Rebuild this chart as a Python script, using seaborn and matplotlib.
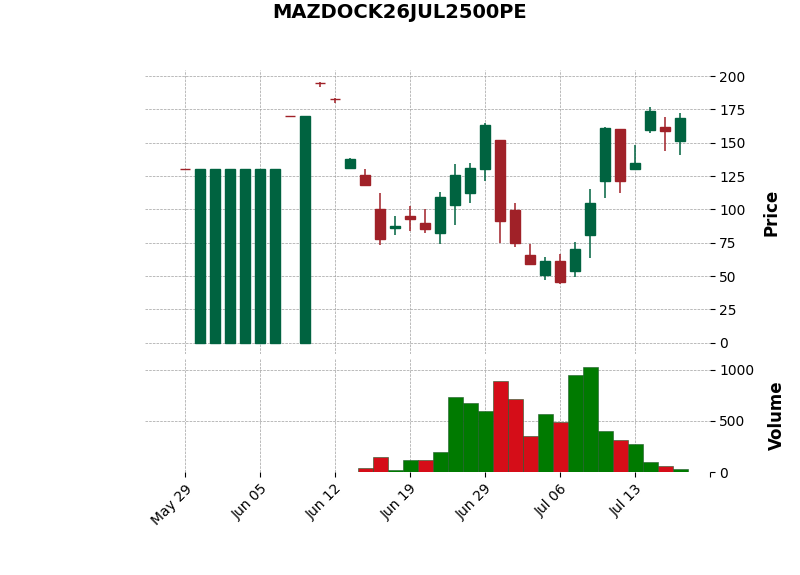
import numpy as np
import pandas as pd
import seaborn as sns
import matplotlib
matplotlib.use('Agg')
import matplotlib.pyplot as plt

title = 'MAZDOCK26JUL2500PE'

dates = ['2025-05-29', '2025-05-30', '2025-06-02', '2025-06-03', '2025-06-04', '2025-06-05',
         '2025-06-06', '2025-06-09', '2025-06-10', '2025-06-11', '2025-06-12', '2025-06-13',
         '2025-06-16', '2025-06-17', '2025-06-18', '2025-06-19', '2025-06-20', '2025-06-23',
         '2025-06-24', '2025-06-25', '2025-06-29', '2025-06-30', '2025-07-01', '2025-07-02',
         '2025-07-03', '2025-07-06', '2025-07-07', '2025-07-08', '2025-07-09', '2025-07-10',
         '2025-07-13', '2025-07-14', '2025-07-15', '2025-07-16']

opens = [130, 0, 0, 0, 0, 0, 0, 170, 0, 195, 183, 131,
         126, 100, 86, 95, 90, 82, 103.5, 112, 130.5, 152, 99.5, 66,
         51, 61.5, 54, 80.5, 121.5, 160, 130, 159.5, 162, 151]
highs = [130, 130, 130, 130, 130, 130, 130, 170, 170, 195.5, 183.5, 138.5,
         130, 112, 95, 102.5, 100, 113, 134, 134.5, 165, 152, 104.5, 74,
         64, 66.5, 75.5, 115, 162, 160.5, 148, 177, 169, 172]
lows = [130, 0, 0, 0, 0, 0, 0, 170, 0, 192, 180, 131,
        118, 73, 81, 84, 82, 74, 88.5, 104.5, 121, 75, 72, 59,
        47, 44, 49.5, 63.5, 108.5, 112, 130, 157, 144, 141]
closes = [130, 130, 130, 130, 130, 130, 130, 170, 170, 195, 183, 138,
          118, 78, 87.5, 93, 85, 109, 126, 131, 163, 91.5, 74.5, 59,
          61.5, 45.5, 70, 105, 161, 121.5, 135, 174, 159, 168.5]
volumes = [0, 0, 0, 0, 0, 0, 0, 0, 0, 0, 0, 0,
           36, 146, 17, 116, 116, 195, 732, 672, 593, 891, 712, 354,
           573, 487, 950, 1030, 404, 315, 275, 96, 56, 26]

df = pd.DataFrame({'date': pd.to_datetime(dates), 'open': opens, 'high': highs,
                   'low': lows, 'close': closes, 'volume': volumes})
df['idx'] = np.arange(len(df))

up, down = '#006340', '#a02128'
vup, vdown = '#007a00', '#d50d18'

candle_colors = [up if c > o else down for o, c in zip(df['open'], df['close'])]
prev_close = df['close'].shift(1).fillna(df['close'])
df['vdir'] = np.where(df['close'] >= prev_close, 'up', 'down')

sns.set_theme(style='whitegrid')
plt.rcParams['font.family'] = ['DejaVu Sans']
plt.rcParams.update({'text.color': 'black', 'axes.labelcolor': 'black',
                     'xtick.color': 'black', 'ytick.color': 'black'})

fig = plt.figure(figsize=(8, 5.75), dpi=100)
ax_p = fig.add_axes([0.18125, 0.3843, 0.70625, 0.4939])
ax_v = fig.add_axes([0.18125, 0.1791, 0.70625, 0.1983], sharex=ax_p)

# price panel
ax_p.vlines(df['idx'], df['low'], df['high'], colors=candle_colors, linewidth=1.1, zorder=2)
ax_p.bar(df['idx'], df['close'] - df['open'], bottom=df['open'], width=0.7,
         color=candle_colors, edgecolor=candle_colors, linewidth=1.0, zorder=3)

# volume panel
sns.barplot(data=df, x='idx', y='volume', hue='vdir', palette={'up': vup, 'down': vdown},
            native_scale=True, dodge=False, width=1.0, legend=False, ax=ax_v,
            edgecolor='#1f5a2a', linewidth=0.4, saturation=1)

for ax in (ax_p, ax_v):
    ax.set_facecolor('white')
    ax.grid(True, color='#a0a0a0', linestyle='--', linewidth=0.5)
    ax.set_axisbelow(True)
    for s in ax.spines.values():
        s.set_visible(False)
    ax.yaxis.tick_right()
    ax.yaxis.set_label_position('right')
    ax.tick_params(axis='y', which='both', right=True, left=False, length=3.5,
                   width=0.8, color='black', labelsize=10, pad=3, labelcolor='black')
    ax.tick_params(axis='x', length=3.5, width=0.8, color='black', labelsize=10,
                   labelcolor='black')

ax_p.set_ylim(-8.5, 204.5)
ax_p.set_yticks(np.arange(0, 201, 25))
ax_p.tick_params(axis='x', bottom=False, labelbottom=False)
ax_p.set_ylabel('Price', fontsize=12, fontweight='bold', labelpad=12)
ax_p.set_xlabel('')

ax_v.set_ylim(0, 1117)
ax_v.set_yticks([0, 500, 1000])
ax_v.set_ylabel('Volume', fontsize=12, fontweight='bold', labelpad=10)
ax_v.set_xlabel('')
ticks = np.arange(0, 36, 5)
labels = [df['date'][i].strftime('%b %d') if i < len(df) else '' for i in ticks]
ax_v.set_xticks(ticks)
ax_v.set_xticklabels(labels, rotation=45, ha='right', rotation_mode='anchor')
ax_v.tick_params(axis='x', bottom=True)
ax_p.set_xlim(-2.67, 35)

fig.suptitle(title, fontsize=14, fontweight='bold', y=0.995, color='black')

fig.savefig('out.png', dpi=100)
